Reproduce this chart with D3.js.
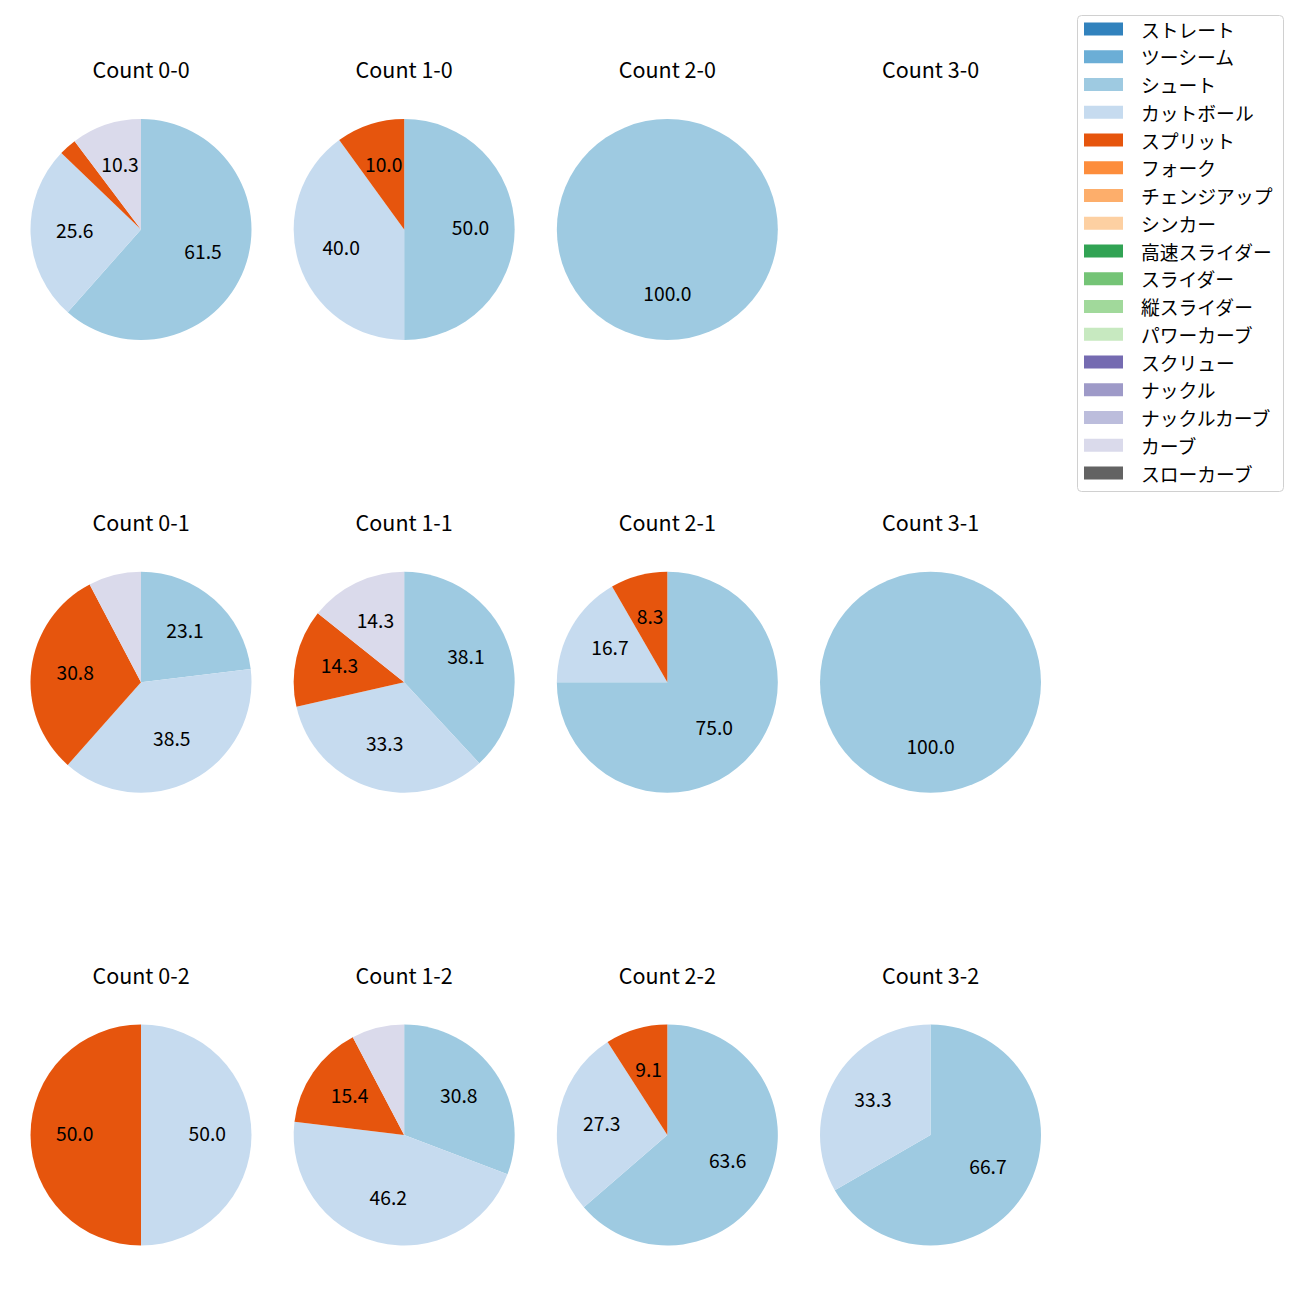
<!DOCTYPE html>
<html>
<head>
<meta charset="utf-8">
<script src="https://cdn.jsdelivr.net/npm/d3@7"></script>
<style>
  html, body { margin: 0; padding: 0; background: #fff; }
  svg { display: block; font-family: "Noto Sans CJK JP", "Noto Sans", sans-serif; }
</style>
</head>
<body>
<svg id="chart" width="1300" height="1300"></svg>
<script>
// ---- data ----
const countLabels = ["0-0","1-0","2-0","3-0","0-1","1-1","2-1","3-1","0-2","1-2","2-2","3-2"];
const pitchTypes = ["ストレート","ツーシーム","シュート","カットボール","スプリット","フォーク","チェンジアップ","シンカー","高速スライダー","スライダー","縦スライダー","パワーカーブ","スクリュー","ナックル","ナックルカーブ","カーブ","スローカーブ"];
const pitchColors = ["#3182bd","#6baed6","#9ecae1","#c6dbef","#e6550d","#fd8d3c","#fdae6b","#fdd0a2","#31a354","#74c476","#a1d99b","#c7e9c0","#756bb1","#9e9ac8","#bcbddc","#dadaeb","#636363"];
// pitch counts per ball-strike count (order of countLabels)
const shoot  = [24, 5, 1, 0,  3, 8, 9, 1,  0, 4, 7, 2];
const cutter = [10, 4, 0, 0,  5, 7, 2, 0,  1, 6, 3, 1];
const split  = [ 1, 1, 0, 0,  4, 3, 1, 0,  1, 2, 1, 0];
const curve  = [ 4, 0, 0, 0,  1, 3, 0, 0,  0, 1, 0, 0];
const seriesByType = { "シュート": shoot, "カットボール": cutter, "スプリット": split, "カーブ": curve };
const labelThreshold = 8; // percentages below this are not labelled

// ---- layout ----
const svg = d3.select("#chart");
const R = 110.5;
const colX = d3.scalePoint().domain([0,1,2,3]).range([141, 930.5]);
const rowY = d3.scalePoint().domain([0,1,2]).range([229.5, 1135]);
const color = d3.scaleOrdinal().domain(pitchTypes).range(pitchColors);

const pie = d3.pie().sort(null).value(d => d.v).startAngle(0).endAngle(2 * Math.PI);
const arc = d3.arc().innerRadius(0).outerRadius(R);
const labelArc = d3.arc().innerRadius(R * 0.6).outerRadius(R * 0.6);

countLabels.forEach((c, i) => {
  const cx = colX(i % 4), cy = rowY(Math.floor(i / 4));
  const g = svg.append("g").attr("transform", `translate(${cx},${cy})`);
  g.append("text")
    .attr("x", 0).attr("y", -161)
    .attr("text-anchor", "middle").attr("dominant-baseline", "central")
    .attr("font-size", 21.5).attr("fill", "#000")
    .text("Count " + c);
  const rows = pitchTypes.map(t => ({ t, v: seriesByType[t] ? seriesByType[t][i] : 0 })).filter(d => d.v > 0);
  if (!rows.length) return;
  const total = d3.sum(rows, d => d.v);
  const arcs = pie(rows);
  g.selectAll("path.slice").data(arcs).join("path")
    .attr("class", "slice")
    .attr("d", arc)
    .attr("fill", d => color(d.data.t));
  g.selectAll("text.pct").data(arcs.filter(d => d.data.v / total * 100 >= labelThreshold)).join("text")
    .attr("class", "pct")
    .attr("transform", d => `translate(${labelArc.centroid(d)})`)
    .attr("y", -2.5)
    .attr("text-anchor", "middle").attr("dominant-baseline", "central")
    .attr("font-size", 19.3).attr("fill", "#000")
    .text(d => (d.data.v / total * 100).toFixed(1));
});

// ---- legend ----
const lg = svg.append("g").attr("transform", "translate(1077,15)");
lg.append("rect").attr("x", 0.5).attr("y", 0.5).attr("width", 206).attr("height", 476)
  .attr("rx", 4).attr("fill", "#fff").attr("fill-opacity", 0.8)
  .attr("stroke", "#d0d0d0").attr("stroke-width", 1);
const ly = d3.scalePoint().domain(pitchTypes).range([14, 458]);
const items = lg.selectAll("g.item").data(pitchTypes).join("g")
  .attr("class", "item").attr("transform", d => `translate(0,${ly(d)})`);
items.append("rect").attr("x", 7).attr("y", -6.5).attr("width", 39).attr("height", 13).attr("fill", d => color(d));
items.append("text").attr("x", 64).attr("y", 0).attr("dominant-baseline", "central")
  .attr("font-size", 18.8).attr("fill", "#000").text(d => d);
</script>
</body>
</html>
